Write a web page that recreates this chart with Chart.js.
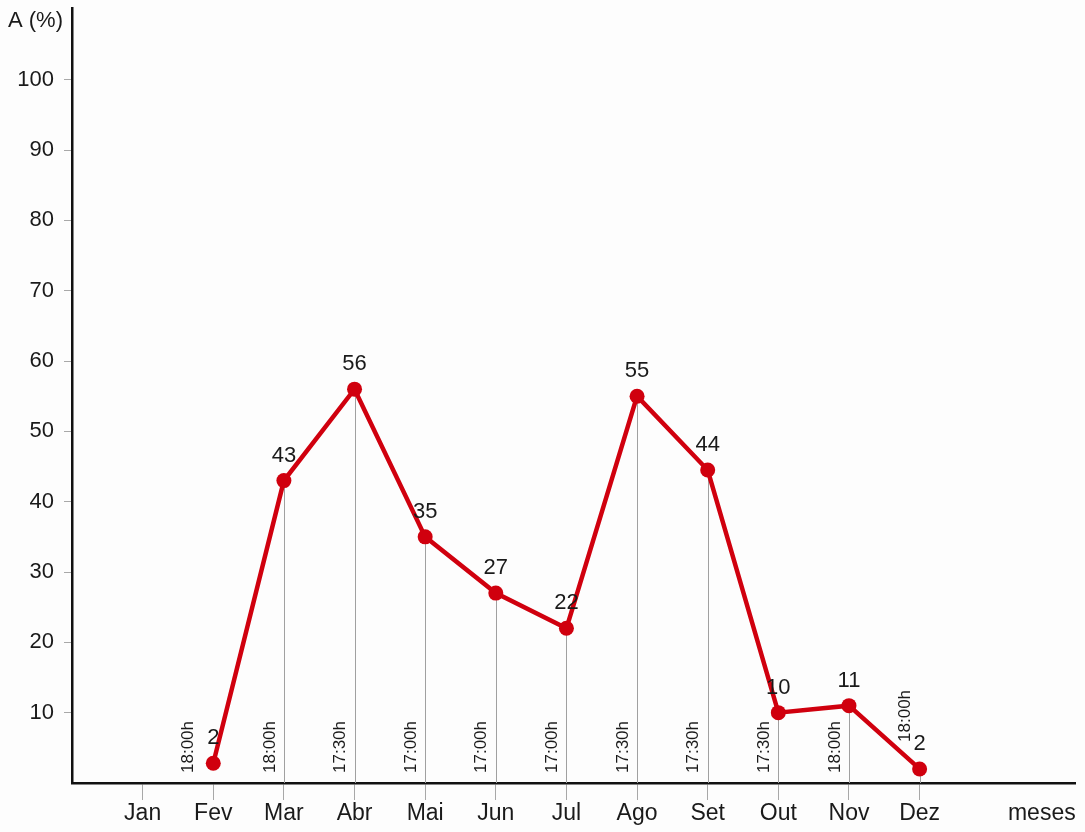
<!DOCTYPE html>
<html>
<head>
<meta charset="utf-8">
<script src="https://cdn.jsdelivr.net/npm/chart.js@4.4.0/dist/chart.umd.min.js"></script>
<style>
  html, body { margin: 0; padding: 0; background: #fdfdfd; }
  #wrap { width: 1085px; height: 832px; }
</style>
</head>
<body>
<div id="wrap"><canvas id="radChart"></canvas></div>
<script>
// dados
const months = ['Jan', 'Fev', 'Mar', 'Abr', 'Mai', 'Jun', 'Jul', 'Ago', 'Set', 'Out', 'Nov', 'Dez'];
const values = [null, 2.8, 43, 56, 35, 27, 22, 55, 44.5, 10, 11, 2];
const valueLabels = ['', '2', '43', '56', '35', '27', '22', '55', '44', '10', '11', '2'];
const hours = ['', '18:00h', '18:00h', '17:30h', '17:00h', '17:00h', '17:00h', '17:30h', '17:30h', '17:30h', '18:00h', '18:00h'];
const yTicks = [10, 20, 30, 40, 50, 60, 70, 80, 90, 100];
const xTitle = 'meses';
const yTitle = 'A (%)';

const FONT = '"Liberation Sans", Arial, sans-serif';
const RED = '#d0000e';

const points = [];
values.forEach(function(v, i) {
    if (v !== null) points.push({ x: i, y: v });
});

// linhas verticais, horas e valores
const extras = {
    id: 'extras',
    beforeDatasetsDraw: function(chart) {
        const ctx = chart.ctx;
        const xs = chart.scales.x, ys = chart.scales.y;
        ctx.save();
        ctx.strokeStyle = '#a0a0a0';
        ctx.lineWidth = 1;
        values.forEach(function(v, i) {
            if (v === null || i === 1) return;
            const px = Math.round(xs.getPixelForValue(i)) + 0.5;
            ctx.beginPath();
            ctx.moveTo(px, ys.getPixelForValue(v));
            ctx.lineTo(px, ys.bottom);
            ctx.stroke();
        });
        ctx.restore();
    },
    afterDatasetsDraw: function(chart) {
        const ctx = chart.ctx;
        const xs = chart.scales.x, ys = chart.scales.y;
        ctx.save();
        ctx.fillStyle = '#1a1a1a';

        // horas (texto vertical)
        ctx.font = '17px ' + FONT;
        ctx.textAlign = 'left';
        ctx.textBaseline = 'middle';
        hours.forEach(function(h, i) {
            if (!h) return;
            let px = xs.getPixelForValue(i) - 14;
            let bottom = ys.bottom - 10;
            if (i === 1) px = xs.getPixelForValue(i) - 25;
            if (i === hours.length - 1) bottom = ys.getPixelForValue(values[i]) - 27;
            ctx.save();
            ctx.translate(px, bottom);
            ctx.rotate(-Math.PI / 2);
            ctx.fillText(h, 0, 0);
            ctx.restore();
        });

        // valores
        ctx.font = '22px ' + FONT;
        ctx.textAlign = 'center';
        ctx.textBaseline = 'middle';
        valueLabels.forEach(function(t, i) {
            if (!t) return;
            const px = xs.getPixelForValue(i);
            const py = ys.getPixelForValue(values[i]);
            ctx.fillText(t, px, py - 25);
        });

        // titulo do eixo y
        ctx.textAlign = 'left';
        ctx.fillText(yTitle, 8, 21);
        ctx.restore();
    }
};

new Chart(document.getElementById('radChart').getContext('2d'), {
    type: 'line',
    data: {
        datasets: [{
            data: points,
            borderColor: RED,
            backgroundColor: RED,
            borderWidth: 4.5,
            pointRadius: 7.5,
            pointBackgroundColor: RED,
            pointBorderColor: RED,
            pointBorderWidth: 0,
            tension: 0
        }]
    },
    options: {
        responsive: true,
        maintainAspectRatio: false,
        animation: false,
        layout: {
            padding: { left: 0, right: 10, top: 8, bottom: 0 }
        },
        scales: {
            x: {
                type: 'linear',
                min: -1,
                max: 13.2,
                afterBuildTicks: function(scale) {
                    const t = months.map(function(m, i) { return { value: i }; });
                    t.push({ value: 12.73 });
                    scale.ticks = t;
                },
                afterFit: function(scale) {
                    scale.height = 49;
                    scale.paddingLeft = 0;
                    scale.paddingRight = 0;
                },
                border: { display: true, color: '#111', width: 2.5 },
                grid: {
                    drawOnChartArea: false,
                    tickLength: 17,
                    color: function(c) { return c.index < months.length ? '#a8a8a8' : 'rgba(0,0,0,0)'; }
                },
                ticks: {
                    autoSkip: false,
                    maxRotation: 0,
                    padding: 0,
                    color: '#1a1a1a',
                    font: { family: FONT, size: 23 },
                    callback: function(v, i) { return i < months.length ? months[i] : xTitle; }
                }
            },
            y: {
                min: 0,
                max: 110.2,
                afterBuildTicks: function(scale) {
                    scale.ticks = yTicks.map(function(v) { return { value: v }; });
                },
                afterFit: function(scale) {
                    scale.width = 72;
                    scale.paddingTop = 0;
                    scale.paddingBottom = 0;
                },
                border: { display: true, color: '#111', width: 2.5 },
                grid: {
                    drawOnChartArea: false,
                    tickLength: 8,
                    color: '#a8a8a8'
                },
                ticks: {
                    padding: 10,
                    color: '#1a1a1a',
                    font: { family: FONT, size: 22 }
                }
            }
        },
        plugins: {
            legend: { display: false },
            tooltip: { enabled: false }
        }
    },
    plugins: [extras]
});
</script>
</body>
</html>
